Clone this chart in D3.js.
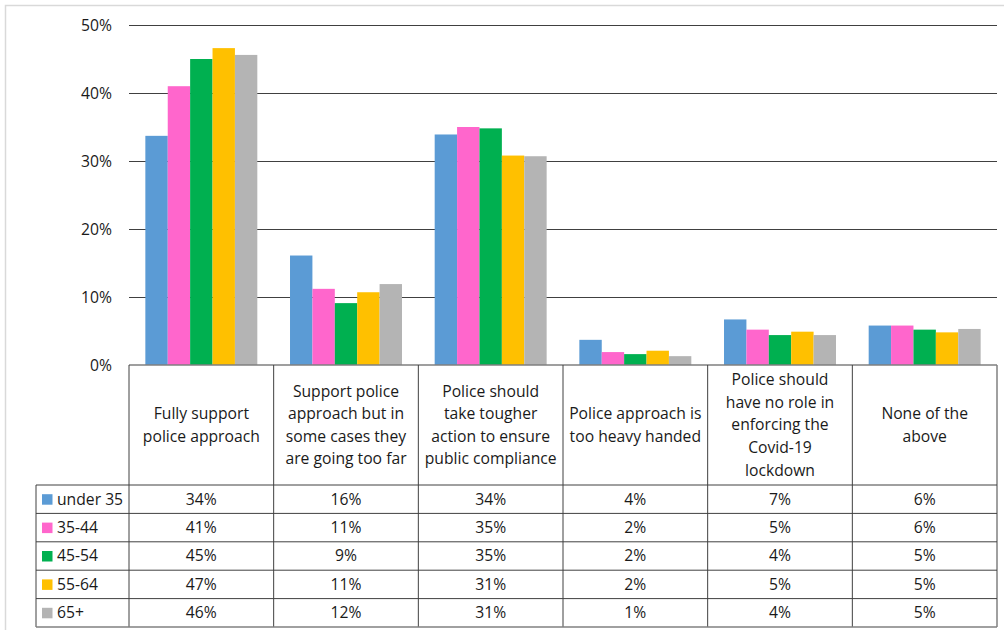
<!DOCTYPE html>
<html>
<head>
<meta charset="utf-8">
<script src="https://cdn.jsdelivr.net/npm/d3@7"></script>
<style>
  html, body { margin: 0; padding: 0; background: #fff; }
  svg { display: block; }
  text { font-family: "Open Sans", "Noto Sans", sans-serif; fill: #1a1a1a; }
</style>
</head>
<body>
<svg id="chart" width="1004" height="630"></svg>
<script>
// Survey responses by age group (share of respondents)
const categories = [
  ["Fully support", "police approach"],
  ["Support police", "approach but in", "some cases they", "are going too far"],
  ["Police should", "take tougher", "action to ensure", "public compliance"],
  ["Police approach is", "too heavy handed"],
  ["Police should", "have no role in", "enforcing the", "Covid-19", "lockdown"],
  ["None of the", "above"]
];
const seriesNames = ["under 35", "35-44", "45-54", "55-64", "65+"];
const seriesColors = ["#5B9BD5", "#FF66CC", "#00B050", "#FFC000", "#B4B4B4"];

const under35 = [0.337, 0.161, 0.339, 0.037, 0.067, 0.058];
const age3544 = [0.410, 0.112, 0.350, 0.019, 0.052, 0.058];
const age4554 = [0.450, 0.091, 0.348, 0.016, 0.044, 0.052];
const age5564 = [0.466, 0.107, 0.308, 0.021, 0.049, 0.048];
const age65up = [0.456, 0.119, 0.307, 0.013, 0.044, 0.053];
const seriesValues = [under35, age3544, age4554, age5564, age65up];

const yTicks = [0, 0.1, 0.2, 0.3, 0.4, 0.5];

const svg = d3.select("#chart");
const W = 1004, H = 630;
const plotLeft = 129, plotRight = 997, plotTop = 25, plotBottom = 365;
const tableLeft = 36, headerBottom = 485, tableBottom = 627;
const fontSize = 15.7;
const lineCol = "#404040";

svg.append("rect").attr("width", W).attr("height", H).attr("fill", "#fff");
// chart area frame
svg.append("rect")
  .attr("x", 5.5).attr("y", 5.5).attr("width", W + 10).attr("height", H + 10)
  .attr("fill", "none").attr("stroke", "#D9D9D9").attr("stroke-width", 1.5);

const catIdx = d3.range(categories.length);
const x0 = d3.scaleBand().domain(catIdx).range([plotLeft, plotRight])
  .paddingInner(0.226).paddingOuter(0.113);
const colW = (plotRight - plotLeft) / categories.length;
const x1 = d3.scaleBand().domain(d3.range(seriesNames.length)).range([0, x0.bandwidth()]);
const y = d3.scaleLinear().domain([0, 0.5]).range([plotBottom, plotTop]);
const pct = d3.format(".0%");

// gridlines + y axis labels
const yAxis = d3.axisLeft(y).tickValues(yTicks).tickFormat(pct)
  .tickSize(-(plotRight - plotLeft)).tickPadding(17);
const gy = svg.append("g").attr("transform", `translate(${plotLeft},0)`).call(yAxis);
gy.select(".domain").remove();
gy.selectAll(".tick line").attr("stroke", lineCol).attr("stroke-width", 1)
  .filter(d => d === 0).remove();
gy.selectAll(".tick text").attr("font-size", fontSize).attr("fill", "#1a1a1a")
  .attr("font-family", "'Open Sans', 'Noto Sans', sans-serif");

// bars
const groups = svg.append("g").selectAll("g")
  .data(catIdx).join("g")
  .attr("transform", i => `translate(${x0(i)},0)`);
groups.selectAll("rect")
  .data(i => seriesValues.map((vals, s) => ({ s, v: vals[i] })))
  .join("rect")
  .attr("x", d => x1(d.s))
  .attr("y", d => y(d.v))
  .attr("width", x1.bandwidth())
  .attr("height", d => y(0) - y(d.v))
  .attr("fill", d => seriesColors[d.s]);

// category axis line
svg.append("line").attr("x1", plotLeft).attr("x2", plotRight)
  .attr("y1", plotBottom).attr("y2", plotBottom)
  .attr("stroke", "#7F7F7F").attr("stroke-width", 1.5);

// data table
const rowH = (tableBottom - headerBottom) / seriesNames.length;
const t = svg.append("g");
// vertical lines across header and rows
d3.range(categories.length + 1).forEach(k => {
  const xx = plotLeft + k * colW;
  t.append("line").attr("x1", xx).attr("x2", xx)
    .attr("y1", plotBottom).attr("y2", tableBottom)
    .attr("stroke", k === categories.length ? "#808080" : lineCol)
    .attr("stroke-width", k === categories.length ? 1.5 : 1);
});
t.append("line").attr("x1", tableLeft).attr("x2", tableLeft)
  .attr("y1", headerBottom).attr("y2", tableBottom).attr("stroke", lineCol);
d3.range(seriesNames.length + 1).forEach(r => {
  const yy = headerBottom + r * rowH;
  t.append("line").attr("x1", tableLeft).attr("x2", plotRight)
    .attr("y1", yy).attr("y2", yy)
    .attr("stroke", r === seriesNames.length ? "#808080" : lineCol)
    .attr("stroke-width", r === seriesNames.length ? 1.5 : 1);
});

// header labels
const lineH = 22.6;
categories.forEach((lines, i) => {
  const cx = plotLeft + (i + 0.5) * colW;
  const cy = (plotBottom + headerBottom) / 2;
  const txt = t.append("text").attr("text-anchor", "middle").attr("font-size", fontSize);
  lines.forEach((ln, j) => {
    txt.append("tspan").attr("x", cx)
      .attr("y", cy + (j - (lines.length - 1) / 2) * lineH)
      .attr("dy", "0.35em").text(ln);
  });
});

// legend keys + row values
seriesNames.forEach((name, s) => {
  const cy = headerBottom + (s + 0.5) * rowH;
  t.append("rect").attr("x", 42).attr("y", cy - 5).attr("width", 10.5).attr("height", 10.5)
    .attr("fill", seriesColors[s]);
  t.append("text").attr("x", 57).attr("y", cy).attr("dy", "0.35em")
    .attr("font-size", fontSize).text(name);
  seriesValues[s].forEach((v, i) => {
    t.append("text").attr("x", plotLeft + (i + 0.5) * colW).attr("y", cy)
      .attr("dy", "0.35em").attr("text-anchor", "middle")
      .attr("font-size", fontSize).text(pct(v));
  });
});
</script>
</body>
</html>
